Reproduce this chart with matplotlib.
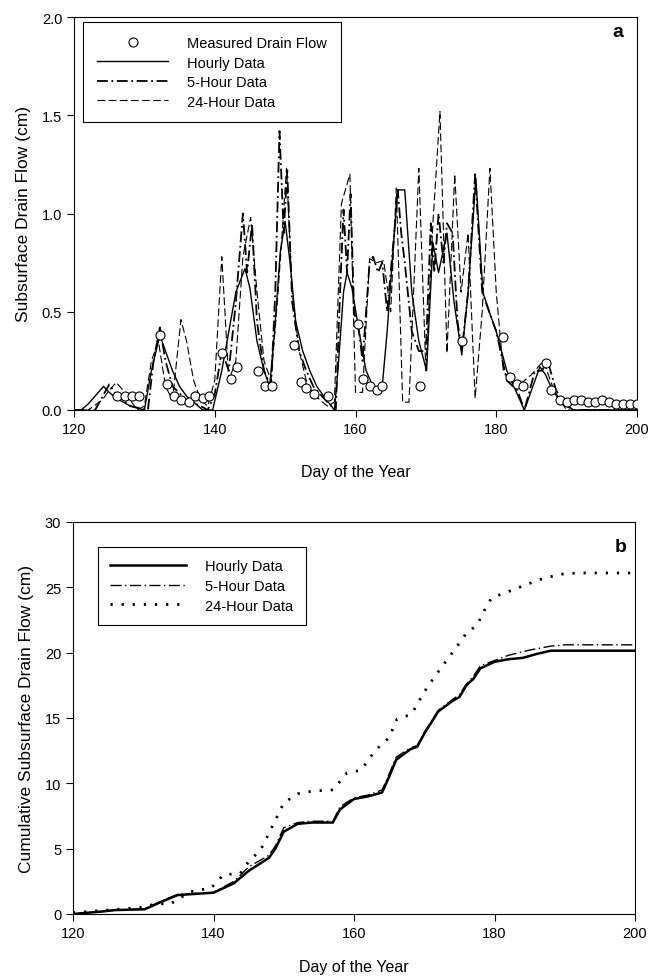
import matplotlib.pyplot as plt

plt.rcParams['font.family'] = ['Liberation Sans', 'DejaVu Sans']

# --- panel a: daily drain flow (cm) ---
meas_day = [126.1, 127.3, 128.2, 129.2, 132.2, 133.2, 134.2, 135.2, 136.3, 137.2, 138.3, 139.2,
            141.1, 142.3, 143.2, 146.2, 147.1, 148.2, 151.2, 152.2, 153.0, 154.1, 156.1,
            160.3, 161.1, 162.0, 163.0, 163.8, 169.1, 175.1, 181.0, 182.0, 183.0, 183.8,
            187.1, 187.8, 189.0, 190.0, 191.0, 192.0, 193.0, 194.0, 195.0, 196.0, 197.0,
            198.0, 199.0, 200.0]
meas_flow = [0.07, 0.07, 0.07, 0.07, 0.38, 0.13, 0.07, 0.05, 0.04, 0.07, 0.06, 0.07,
             0.29, 0.16, 0.22, 0.20, 0.12, 0.12, 0.33, 0.14, 0.11, 0.08, 0.07,
             0.44, 0.16, 0.12, 0.10, 0.12, 0.12, 0.35, 0.37, 0.17, 0.13, 0.12,
             0.24, 0.10, 0.05, 0.04, 0.05, 0.05, 0.04, 0.04, 0.05, 0.04, 0.03,
             0.03, 0.03, 0.03]

hourly_day = [120, 121, 122, 124.2, 125, 126, 127, 128, 129, 130, 131, 132.2, 133, 134, 135, 136,
              137, 138.3, 139.7, 141, 142, 143, 144.3, 145, 146, 147, 147.8, 148.5, 149.3, 150,
              150.7, 151.5, 152.5, 153.5, 154.5, 155.5, 157, 157.5, 158.3, 158.8, 159.5, 160.5,
              161.5, 162.5, 163, 163.8, 164.5, 165.3, 166, 167, 168, 169, 170.1, 171, 171.8, 173,
              174, 175.1, 176, 177.1, 178.1, 179, 180, 181.5, 183, 184, 185, 186.2, 187, 188,
              189, 191, 200]
hourly_flow = [0, 0, 0.03, 0.12, 0.09, 0.06, 0.04, 0.02, 0.01, 0.0, 0.2, 0.38, 0.3, 0.2, 0.12, 0.07,
               0.04, 0.0, 0.0, 0.2, 0.4, 0.6, 0.72, 0.62, 0.35, 0.2, 0.12, 0.4, 0.8, 0.96,
               0.75, 0.45, 0.3, 0.2, 0.12, 0.07, 0.0, 0.2, 0.6, 0.70, 0.62, 0.4,
               0.2, 0.12, 0.10, 0.12, 0.4, 0.8, 1.12, 1.12, 0.6, 0.35, 0.2, 0.85, 0.7, 0.9,
               0.55, 0.28, 0.6, 1.18, 0.6, 0.5, 0.4, 0.2, 0.08, 0.0, 0.1, 0.22, 0.18, 0.1,
               0.05, 0.0, 0.0]

h5_day = [120, 123, 125, 126, 128, 130.5, 131.3, 132.2, 133, 134, 136, 138, 139, 140, 141, 142,
          143, 144, 144.6, 145.3, 146, 147, 148, 148.6, 149.2, 149.8, 150.3, 151, 152, 153, 154,
          155, 156, 157.2, 157.8, 158.3, 158.8, 159.3, 159.8, 160.5, 161, 162, 162.5, 163.2,
          163.8, 164.5, 165.5, 166, 166.5, 167, 168, 169, 170, 170.7, 171.2, 171.8, 172.5, 173,
          173.8, 174.5, 175.1, 176, 177, 177.5, 178, 180, 181.5, 183, 184, 185.5, 186.5, 187.3,
          188.5, 190, 191, 200]
h5_flow = [0, 0, 0.13, 0.08, 0.02, 0.0, 0.25, 0.42, 0.25, 0.12, 0.05, 0.02, 0.0, 0.08, 0.3, 0.2,
           0.55, 1.0, 0.7, 0.95, 0.45, 0.2, 0.12, 0.6, 1.42, 0.9, 1.22, 0.55, 0.3, 0.2, 0.12,
           0.08, 0.04, 0.0, 0.6, 1.02, 0.7, 1.1, 0.5, 0.4, 0.25, 0.75, 0.78, 0.7,
           0.75, 0.5, 0.9, 1.12, 0.9, 0.75, 0.4, 0.3, 0.3, 0.95, 0.7, 1.0, 0.75, 0.95,
           0.9, 0.45, 0.3, 0.6, 1.2, 0.9, 0.6, 0.4, 0.15, 0.1, 0.0, 0.2, 0.2, 0.25,
           0.1, 0.02, 0.0, 0.0]

h24_day = [120, 122, 124, 125, 126, 127, 128, 129, 130, 131, 132, 133, 134, 135.2, 136, 137, 138,
           139, 140, 141, 142, 143, 144, 145.1, 146, 147, 148, 149, 150.2, 151, 152, 153, 154,
           155, 156, 157, 158, 159.2, 160, 161, 162, 163, 164, 165, 165.8, 166.7, 167.6, 169,
           170, 171, 172, 173, 174.1, 175, 176, 177, 178, 179.1, 180, 181, 182, 183, 184, 185,
           186.7, 188, 189, 190, 200]
h24_flow = [0, 0, 0.05, 0.1, 0.14, 0.1, 0.05, 0.0, 0.02, 0.25, 0.35, 0.12, 0.05, 0.46, 0.35, 0.15, 0.05,
            0.02, 0.15, 0.78, 0.15, 0.25, 0.78, 0.98, 0.6, 0.25, 0.15, 0.6, 1.23, 0.6, 0.3, 0.15, 0.08,
            0.05, 0.02, 0.04, 1.05, 1.2, 0.09, 0.09, 0.77, 0.75, 0.76, 0.5, 1.13, 0.04, 0.04, 1.23,
            0.2, 0.95, 1.52, 0.29, 1.2, 0.6, 0.9, 0.06, 0.5, 1.23, 0.6, 0.2, 0.15, 0.12, 0.15, 0.18,
            0.25, 0.12, 0.05, 0.0, 0.0]

# --- panel b: cumulative drain flow (cm) ---
cum_h_day = [120, 124.3, 126, 130.2, 132.6, 134.9, 140, 142.9, 145, 147.9, 148.8, 150, 152, 154,
             157, 158, 160, 162, 164, 165, 166, 168, 169, 170, 172, 174, 175, 176, 177, 178, 180,
             182, 184, 186, 188, 190, 200]
cum_h = [0, 0.2, 0.3, 0.36, 0.94, 1.45, 1.63, 2.35, 3.3, 4.3, 5.0, 6.3, 6.9, 7.0,
         7.0, 8.0, 8.8, 9.0, 9.3, 10.5, 11.8, 12.6, 12.8, 13.8, 15.5, 16.3, 16.6, 17.5, 18.0, 18.8, 19.3,
         19.5, 19.6, 19.9, 20.15, 20.15, 20.15]
cum_5_day = [120, 124.3, 126, 130.2, 132.6, 134.9, 140, 142.9, 145, 147.9, 148.8, 150, 152, 154,
             157, 158, 160, 162, 164, 165, 166, 168, 169, 170, 172, 174, 175, 176, 177, 178, 180,
             182, 185, 188, 190, 200]
cum_5 = [0, 0.2, 0.3, 0.4, 1.0, 1.5, 1.65, 2.5, 3.6, 4.5, 5.2, 6.6, 7.0, 7.1,
         7.1, 8.2, 8.9, 9.1, 9.5, 10.7, 12.0, 12.7, 12.9, 13.9, 15.6, 16.4, 16.8, 17.6, 18.2, 19.0, 19.4,
         19.8, 20.2, 20.5, 20.6, 20.6]
cum_24_day = [120, 125, 129.6, 132, 133.8, 136.7, 139.7, 141.4, 143.8, 145, 146.7, 148, 150, 152,
              154, 157, 159, 161, 163, 165, 166.1, 168.2, 170, 171.8, 174, 175.1, 176, 177.5, 178.9,
              179.6, 182.1, 184, 186.5, 189.3, 192, 200]
cum_24 = [0.1, 0.3, 0.5, 0.8, 0.75, 1.7, 2.0, 3.0, 3.1, 4.0, 4.9, 6.3, 8.5, 9.2,
          9.4, 9.5, 10.8, 11.0, 12.5, 13.5, 14.9, 15.3, 17.0, 18.4, 20.0, 20.8, 21.5, 22.1, 23.6,
          24.2, 24.7, 25.1, 25.6, 26.0, 26.1, 26.1]

fs = 10.5
fig = plt.figure(figsize=(6.5, 9.79), dpi=100)

# panel a
ax1 = fig.add_axes([74 / 650, 1 - 411 / 979, 563 / 650, 393 / 979])
ax1.plot(meas_day, meas_flow, 'o', mfc='white', mec='black', ms=6.5, mew=0.8,
         label='Measured Drain Flow', zorder=3)
ax1.plot(hourly_day, hourly_flow, '-', color='black', lw=1.0, label='Hourly Data')
ax1.plot(h5_day, h5_flow, color='black', lw=1.3, dashes=(6, 2, 1, 2), label='5-Hour Data')
ax1.plot(h24_day, h24_flow, color='black', lw=0.8, dashes=(7, 3), label='24-Hour Data')
ax1.set_xlim(120, 200)
ax1.set_ylim(0, 2.0)
ax1.set_xticks([120, 140, 160, 180, 200])
ax1.set_yticks([0, 0.5, 1.0, 1.5, 2.0])
ax1.set_yticklabels(['0.0', '0.5', '1.0', '1.5', '2.0'])
ax1.set_xlabel('Day of the Year', fontsize=11.5, labelpad=20)
ax1.set_ylabel('Subsurface Drain Flow (cm)', fontsize=12.5, labelpad=8)
ax1.text(0.975, 0.985, 'a', transform=ax1.transAxes, ha='right', va='top',
         fontsize=14, fontweight='bold')
leg1 = ax1.legend(loc='upper left', bbox_to_anchor=(0.016, 0.987), borderaxespad=0,
                  fontsize=fs, frameon=True, fancybox=False, edgecolor='black', framealpha=1,
                  handlelength=4.9, handletextpad=1.3, borderpad=0.95, labelspacing=0.38)
leg1.get_frame().set_linewidth(0.8)

# panel b
ax2 = fig.add_axes([73 / 650, 1 - 915 / 979, 562 / 650, 392 / 979])
ax2.plot(cum_h_day, cum_h, '-', color='black', lw=1.8, label='Hourly Data')
ax2.plot(cum_5_day, cum_5, color='black', lw=1.0, dashes=(8, 2.5, 1, 2.5), label='5-Hour Data')
ax2.plot(cum_24_day, cum_24, color='black', lw=2.0, dashes=(0.8, 3.2), label='24-Hour Data')
ax2.set_xlim(120, 200)
ax2.set_ylim(0, 30)
ax2.set_xticks([120, 140, 160, 180, 200])
ax2.set_yticks([0, 5, 10, 15, 20, 25, 30])
ax2.set_xlabel('Day of the Year', fontsize=11.5, labelpad=14)
ax2.set_ylabel('Cumulative Subsurface Drain Flow (cm)', fontsize=12.5, labelpad=8)
ax2.text(0.985, 0.96, 'b', transform=ax2.transAxes, ha='right', va='top',
         fontsize=14, fontweight='bold')
leg2 = ax2.legend(loc='upper left', bbox_to_anchor=(0.0445, 0.936), borderaxespad=0,
                  fontsize=fs, frameon=True, fancybox=False, edgecolor='black', framealpha=1,
                  handlelength=5.2, handletextpad=1.3, borderpad=0.85, labelspacing=0.38)
leg2.get_frame().set_linewidth(0.8)

for ax in (ax1, ax2):
    ax.tick_params(direction='out', length=5, width=0.8, labelsize=fs, top=False, right=False)
    for s in ax.spines.values():
        s.set_linewidth(0.8)

fig.savefig('out.png', dpi=100)
